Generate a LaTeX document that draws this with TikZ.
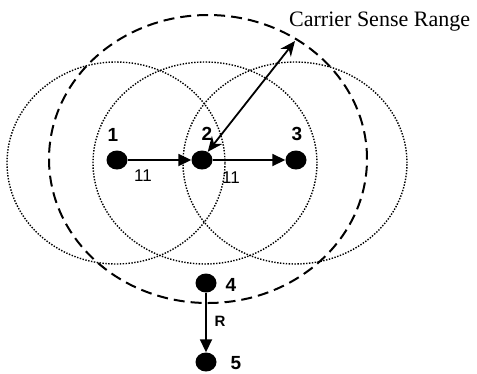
\documentclass[tikz,border=0pt]{standalone}
\usepackage{fontspec}
\setmainfont{Liberation Serif}
\newfontfamily\arialf{Liberation Sans}
\usetikzlibrary{arrows.meta,shapes.geometric}
\begin{document}
\begin{tikzpicture}[x=1pt,y=-1pt,
  dot/.style={ellipse,fill=black,minimum width=21pt,minimum height=19pt,inner sep=0pt},
  num/.style={font=\arialf\bfseries\fontsize{19}{19}\selectfont,inner sep=0pt},
  lab/.style={font=\arialf\fontsize{17}{17}\selectfont,inner sep=0pt},
  arr/.style={-{Triangle[length=13pt,width=12pt]},line width=1.8pt},
  darr/.style={{Stealth[length=15pt,width=13pt]}-{Stealth[length=15pt,width=13pt]},line width=1.8pt},
  rangeline/.style={dash pattern=on 1.4pt off 1.5pt,line width=1.4pt},
  csline/.style={dash pattern=on 11pt off 6pt,line width=2pt}]
\useasboundingbox (0,0) rectangle (477,373);
% transmission ranges
\draw[rangeline] (116,163) ellipse [x radius=109pt, y radius=101pt];
\draw[rangeline] (205,163) ellipse [x radius=112pt, y radius=101pt];
\draw[rangeline] (295,163) ellipse [x radius=112pt, y radius=101pt];
% carrier sense range
\draw[csline] (208,159) ellipse [x radius=159pt, y radius=144pt];
\coordinate (csp) at (295,41);
\node[anchor=base west,font=\fontsize{22}{22}\selectfont,inner sep=0pt] (cstext) at (289,26) {Carrier Sense Range};
% nodes
\node[dot] (n1) at (117,160) {};
\node[dot] (n2) at (202,160) {};
\node[dot] (n3) at (296,160) {};
\node[dot] (n4) at (206,283) {};
\node[dot] (n5) at (206,362) {};
\node[num] (l1) at (113,135) {1};
\node[num] (l2) at (207,134) {2};
\node[num] (l3) at (297,134) {3};
\node[num] (l4) at (231,285) {4};
\node[num] (l5) at (236,363) {5};
% links
\draw[arr] (n1) -- (n2);
\draw[arr] (n2) -- (n3);
\draw[arr] (n4) -- (n5);
\draw[darr] (n2.55) -- (csp);
\node[lab] (w1) at (143,176) {11};
\node[lab] (w2) at (231,178) {11};
\node[lab,font=\arialf\bfseries\fontsize{15}{15}\selectfont] (wr) at (220,321) {R};
\end{tikzpicture}
\end{document}
